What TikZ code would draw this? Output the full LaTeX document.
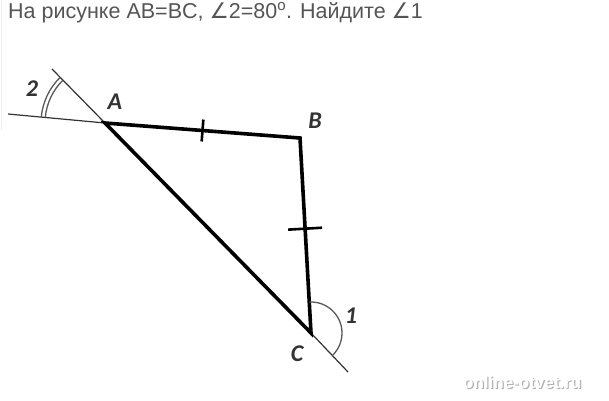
\documentclass[tikz,border=0pt]{standalone}
\usepackage{fontspec}
\setmainfont{Liberation Sans}
\newfontfamily\symfont{DejaVu Sans}
\newfontfamily\lblfont{Carlito}
\usetikzlibrary{calc}
\definecolor{txtgray}{HTML}{555555}
\tikzset{
  side/.style={line width=3.6pt, line cap=round, line join=miter},
  thin/.style={line width=1.2pt, draw=black!80},
  tick/.style={line width=2.6pt},
  arcline/.style={line width=1.3pt, draw=black!65},
  lbl/.style={font=\lblfont\fontsize{24}{24}\selectfont\bfseries\itshape, text=black!80, inner sep=0pt},
}
\begin{document}
\begin{tikzpicture}[x=1pt,y=1pt]
\useasboundingbox (0,-400) rectangle (609,0);
\fill[white] (0,-400) rectangle (609,0);
\draw[gray!12, line width=1pt] (1.5,0) -- (1.5,-130);
% title
\node[anchor=base west, inner sep=0pt, text=txtgray, font=\fontsize{21.5}{22}\selectfont] (title) at (8,-18.5)
  {На рисунке AB=BC, {\symfont ∠}2=80\textsuperscript{o}. Найдите {\symfont ∠}1};
% points
\coordinate (A) at (105,-123);
\coordinate (B) at (300,-138);
\coordinate (C) at (311,-333);
\coordinate (L) at (8,-114);
\coordinate (U) at (52,-69);
\coordinate (D) at (348,-372);
% extension lines
\draw[thin] (L) -- (A);
\draw[thin] (U) -- (A);
\draw[thin] (C) -- (D);
% triangle
\draw[side] (A) -- (B) -- (C) -- cycle;
% ticks
\coordinate (T1) at ($(A)!0.5!(B)$);
\draw[tick] ($(T1)!11pt!90:(B)$) -- ($(T1)!11pt!-90:(B)$);
\coordinate (T2) at ($(B)!0.465!(C)$);
\draw[tick] ($(T2)!17pt!90:(C)$) -- ($(T2)!17pt!-90:(C)$);
% angle 2 (double arc)
\draw[arcline] ($(A)+(134.5:60)$) arc[start angle=134.5, end angle=174.7, radius=60];
\draw[arcline] ($(A)+(134.5:64)$) arc[start angle=134.5, end angle=174.7, radius=64];
% angle 1
\draw[arcline] ($(C)+(93.2:31)$) arc[start angle=93.2, end angle=-46.5, radius=31];
% labels
\node[lbl] (lA) at (115,-102) {A};
\node[lbl] (lB) at (315,-121) {B};
\node[lbl] (lC) at (297,-354) {C};
\node[lbl] (l1) at (351,-316) {1};
\node[lbl] (l2) at (32,-89) {2};
% watermark
\node[anchor=base west, inner sep=0pt, text=black!30, font=\fontsize{17}{17}\selectfont\bfseries] (wms) at (464.2,-389.2) {online-otvet.ru};
\node[anchor=base west, inner sep=0pt, text=white, font=\fontsize{17}{17}\selectfont\bfseries] (wm) at (463,-388) {online-otvet.ru};
\end{tikzpicture}
\end{document}
